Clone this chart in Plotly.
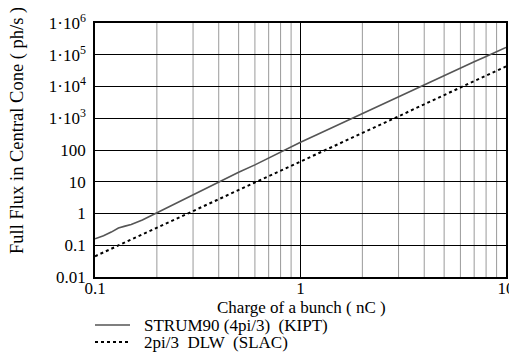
import plotly.graph_objects as go

charge_kipt = [0.1, 0.11, 0.12, 0.13, 0.14, 0.15, 0.17, 0.2, 0.25, 0.3, 0.4, 0.5, 0.6, 0.7, 0.8, 0.9, 1.0,
               1.2, 1.5, 2.0, 2.5, 3.0, 4.0, 5.0, 6.0, 7.0, 8.0, 9.0, 10.0]
flux_kipt = [0.16, 0.2, 0.26, 0.35, 0.40, 0.45, 0.62, 1.05, 2.1, 3.9, 9.5, 20, 34, 56, 85, 125, 175,
             300, 590, 1400, 2750, 4700, 11000, 22000, 38000, 60000, 88000, 125000, 170000]

charge_slac = [0.1, 0.15, 0.2, 0.3, 0.4, 0.5, 0.7, 1.0, 1.5, 2.0, 3.0, 4.0, 5.0, 7.0, 10.0]
flux_slac = [0.045, 0.15, 0.36, 1.2, 2.8, 5.4, 15, 43, 145, 340, 1150, 2750, 5400, 15000, 43000]

series_names = ["STRUM90 (4pi/3) \u00a0(KIPT)", "2pi/3 \u00a0DLW \u00a0(SLAC)"]

y_tickvals = [0.01, 0.1, 1, 10, 100, 1e3, 1e4, 1e5, 1e6]
y_ticktext = ["0.01", "0.1", "1", "10", "100", "1·10<sup>3</sup>", "1·10<sup>4</sup>",
              "1·10<sup>5</sup>", "1·10<sup>6</sup>"]
x_tickvals = [0.1, 1, 10]
x_ticktext = ["0.1", "1", "10"]

FONT = "Liberation Serif"
OFF = 8  # page body margin
W, H = 517 - OFF, 358 - OFF
L, R, T, B = 95 - OFF, 11, 23 - OFF, 89 - OFF
PW, PH = W - L - R, H - T - B


def px(xp):
    return (xp - OFF - L) / PW


def py(yp):
    return (H - B - (yp - OFF)) / PH


styles = [dict(color="#555555", width=1.6), dict(color="#000000", width=2, dash="dot")]

fig = go.Figure()

# minor vertical grid lines (gray)
minor_x = [m * d for d in (0.1, 1) for m in range(2, 10)]
for xv in minor_x:
    fig.add_shape(type="line", xref="x", yref="paper", x0=xv, x1=xv, y0=0, y1=1,
                  line=dict(color="#9a9a9a", width=1), layer="below")

fig.add_trace(go.Scatter(x=charge_kipt, y=flux_kipt, mode="lines",
                         name=series_names[0], line=styles[0]))
fig.add_trace(go.Scatter(x=charge_slac, y=flux_slac, mode="lines",
                         name=series_names[1], line=styles[1]))

fig.update_xaxes(type="log", range=[-1, 1], tickvals=x_tickvals, ticktext=x_ticktext,
                 showgrid=True, gridcolor="#000000", gridwidth=1,
                 showline=True, linecolor="#000000", linewidth=1.5, mirror=True,
                 ticks="", ticklen=0, ticklabelstandoff=-5,
                 tickfont=dict(family=FONT, size=17, color="#000"),
                 zeroline=False, automargin=False)
fig.update_yaxes(type="log", range=[-2, 6], tickvals=y_tickvals, ticktext=y_ticktext,
                 showgrid=True, gridcolor="#000000", gridwidth=1,
                 showline=True, linecolor="#000000", linewidth=1.5, mirror=True,
                 ticks="", ticklen=0, ticklabelstandoff=4,
                 tickfont=dict(family=FONT, size=17, color="#000"),
                 zeroline=False, automargin=False)

fig.add_annotation(text="Charge of a bunch ( nC )", xref="paper", yref="paper",
                   x=px(301), y=py(307), xanchor="center", yanchor="middle",
                   showarrow=False, font=dict(family=FONT, size=17, color="#000"))
fig.add_annotation(text="Full Flux in Central Cone ( ph/s )", xref="paper", yref="paper",
                   x=px(17), y=py(131), xanchor="center", yanchor="middle",
                   textangle=-90, showarrow=False,
                   font=dict(family=FONT, size=18.5, color="#000"))

# manual legend below the axis
legend_rows = [325, 342]
for name, st, yrow in zip(series_names, styles, legend_rows):
    fig.add_shape(type="line", xref="paper", yref="paper", x0=px(95), x1=px(130),
                  y0=py(yrow), y1=py(yrow), line=st)
    fig.add_annotation(text=name, xref="paper", yref="paper", x=px(142), y=py(yrow),
                       xanchor="left", yanchor="middle", showarrow=False,
                       font=dict(family=FONT, size=17, color="#000"))

fig.update_layout(
    width=W, height=H,
    margin=dict(l=L, r=R, t=T, b=B),
    paper_bgcolor="white", plot_bgcolor="white",
    showlegend=False,
    font=dict(family=FONT, color="#000"),
)

fig.write_html("out.html")
